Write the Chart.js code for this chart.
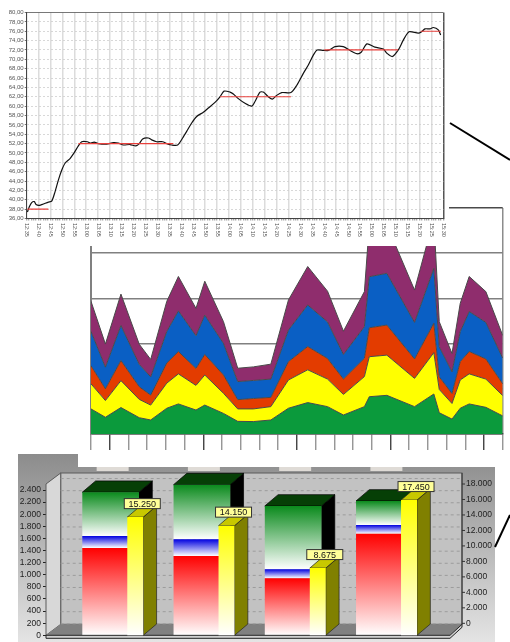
<!DOCTYPE html>
<html>
<head>
<meta charset="utf-8">
<title>Charts</title>
<script src="https://cdn.jsdelivr.net/npm/chart.js@4"></script>
<style>
  body { margin: 0; background: #fff; }
  #page { position: relative; width: 510px; height: 642px; overflow: hidden; }
  canvas, svg { position: absolute; display: block; }
  #panel { position: absolute; left: 18px; top: 454px; width: 477px; height: 188px; background: linear-gradient(#8c8c8c, #e4e4e4); }
  #barCanvas { left: 18px; top: 454px; z-index: 1; }
  #areaCanvas { left: 78px; top: 207px; z-index: 2; background: #fff; }
  #lineCanvas { left: 0; top: 0; z-index: 3; background: #fff; }
  #connectors { left: 0; top: 0; z-index: 4; }
</style>
</head>
<body>
<div id="page">
  <div id="panel"></div>
  <canvas id="barCanvas" width="477" height="188"></canvas>
  <canvas id="areaCanvas" width="432" height="260"></canvas>
  <canvas id="lineCanvas" width="449" height="246"></canvas>
  <svg id="connectors" width="510" height="642">
    <line x1="450" y1="123" x2="510" y2="160" stroke="#000" stroke-width="2"/>
    <line x1="495" y1="547" x2="510" y2="515" stroke="#000" stroke-width="2"/>
  </svg>
</div>
<script>
// --- line chart data (minutes after 12:35) ---
const priceMinutes = [0.3, 1.1, 2.1, 3.2, 3.9, 5.3, 7, 9.1, 10.5, 11.9, 13.3, 14.7, 16.1, 18.2, 19.9, 21.7, 23.1, 25.5, 26.9, 28.3,
  30.1, 33.6, 36.4, 38.5, 40.6, 43.4, 45.9, 47.3, 48.7, 51.1, 52.5, 54.6, 57.1, 58.8, 60.9, 63.4, 65.5, 67.2, 69.3, 71.4,
  74.2, 76.3, 79.1, 81.2, 82.9, 85.4, 86.8, 88.9, 91.7, 94.5, 95.9, 98, 99.4, 101.5, 103.2, 105, 107.1, 111, 113.4, 116.2,
  118.3, 120.4, 122, 124.6, 126.7, 129.5, 133, 135.8, 138.7, 140.5, 142.9, 146.3, 149.8, 151.3, 153.6, 156.1, 158.2, 160.6, 164.5, 165.9,
  167.3, 169.4, 170.8, 172.9, 173.9];
const priceValues = [37.4, 38.5, 39.4, 39.6, 39, 38.8, 39.1, 39.5, 39.7, 41.7, 44.2, 46.3, 47.8, 48.8, 50, 51.5, 52.4, 52.4, 52.1, 52.3,
  52, 51.9, 52.2, 52.1, 51.7, 51.8, 51.5, 52, 53, 53.2, 52.8, 52.4, 52.4, 52, 51.7, 51.7, 53.2, 54.6, 56.4, 57.8,
  58.7, 59.6, 60.8, 62, 63.2, 63, 62.6, 61.6, 60.6, 60, 61, 63, 63, 62, 61.5, 62.3, 62.9, 62.9, 64.4, 67,
  68.8, 70.9, 72, 71.9, 71.9, 72.7, 72.7, 71.9, 71.2, 71.5, 73.3, 72.6, 72.2, 71.3, 70.6, 72, 74.1, 75.9, 75.6, 75.9,
  76.5, 76.5, 76.8, 76.3, 75.2];
const levelStarts = [0.3, 21.7, 81.2, 125, 165.5];
const levelEnds = [9.1, 61.6, 111, 156, 174];
const levelValues = [38, 52, 62, 72, 76];

// --- stacked area data ---
const areaX = [0, 0.77, 1.6, 2.58, 3.19, 4.05, 4.67, 5.61, 6.08, 7.08, 7.84, 8.68, 9.61, 10.55,
  11.58, 12.64, 13.49, 14.61, 14.87, 15.81, 17.29, 18.32, 18.61, 19.29, 19.73, 20.21, 21.1, 22];
const areaGreen = [11.1, 7.4, 11.7, 7.2, 6.2, 11.4, 13.3, 10.6, 12.8, 9.1, 5.6, 5.5, 6.2, 11.4,
  13.9, 12.1, 8.4, 12.1, 16.5, 17.1, 12.1, 17.7, 9.4, 6.6, 11.4, 13.3, 11.8, 8];
const areaYellow = [11.1, 7.4, 11.9, 8.1, 6.6, 11.1, 13.3, 10.9, 13.3, 8.9, 5.5, 5.6, 5.9, 12.5,
  14.5, 12.2, 9.1, 13.3, 17.7, 17.8, 12.5, 18.3, 10.3, 6.9, 12.5, 13.3, 12.5, 9];
const areaRed = [8, 5.2, 8.9, 5.6, 4.4, 8.9, 9.9, 7.5, 9.1, 8.1, 4.1, 4.6, 4.1, 8.1,
  10.3, 9.1, 6.8, 8.1, 12.8, 13.3, 8.6, 13, 5.6, 4.4, 8.1, 9.9, 8.9, 5.2];
const areaBlue = [15.2, 9.6, 15.5, 9.9, 8.1, 14, 18, 14.5, 17.4, 14, 8, 8, 8.1, 14,
  18.4, 16.2, 10.9, 14, 22.6, 22.9, 16.2, 24.3, 13.3, 9.6, 13.3, 17.7, 16.2, 11.4];
const areaPurple = [13.3, 10.2, 13.9, 8.9, 7.7, 13.3, 15.2, 12.1, 15, 9.6, 5.9, 6, 6.6, 13.3,
  17, 13.6, 10.3, 15.5, 22.9, 21.4, 14.3, 22.1, 11.1, 8.1, 12.5, 15.5, 13.6, 10];

// --- 3D bar data ---
const barSlots = [1, 2, 3, 4];
const barRed = [1443, 1310, 942, 1679];
const barBlue = [198, 277, 149, 144];
const barGreen = [723, 902, 1046, 397];
const barYellow = [15250, 14150, 8675, 17450];
const yellowShift = 0.27;
const leftAxisTicks = [0, 200, 400, 600, 800, 1000, 1200, 1400, 1600, 1800, 2000, 2200, 2400];
const rightAxisTicks = [0, 2000, 4000, 6000, 8000, 10000, 12000, 14000, 16000, 18000];

Chart.defaults.font.family = '"Liberation Sans", Arial, sans-serif';
Chart.defaults.animation = false;
Chart.defaults.responsive = false;
Chart.defaults.plugins.legend.display = false;
Chart.defaults.plugins.tooltip.enabled = false;

function minuteLabel(m) {
  const total = 12 * 60 + 35 + m;
  return Math.floor(total / 60) + ':' + String(total % 60).padStart(2, '0');
}

function thousands(v) {
  return String(v).replace(/\B(?=(\d{3})+$)/g, '.');
}

// Chart.js only turns labels counter-clockwise here, these read downwards
const downwardLabels = {
  id: 'downwardLabels',
  afterDraw(chart) {
    const { ctx, scales: { x } } = chart;
    ctx.save();
    ctx.font = '5.5px "Liberation Sans", Arial, sans-serif';
    ctx.fillStyle = '#555';
    ctx.textAlign = 'left';
    ctx.textBaseline = 'middle';
    x.ticks.forEach((t, i) => {
      if (t.value % 5 !== 0) return;
      ctx.save();
      ctx.translate(x.getPixelForTick(i), x.top + 4.5);
      ctx.rotate(Math.PI / 2);
      ctx.fillText(minuteLabel(t.value), 0, 0);
      ctx.restore();
    });
    ctx.restore();
  }
};

// --- Line chart ---
const levelSets = levelValues.map((v, i) => ({
  data: [{ x: levelStarts[i], y: v }, { x: levelEnds[i], y: v }],
  borderColor: '#e8403c',
  borderWidth: 1.2,
  pointRadius: 0,
  order: 0
}));

new Chart(document.getElementById('lineCanvas'), {
  type: 'line',
  data: {
    datasets: [{
      data: priceMinutes.map((m, i) => ({ x: m, y: priceValues[i] })),
      borderColor: '#111',
      borderWidth: 1.2,
      pointRadius: 0,
      tension: 0.25,
      order: 1
    }, ...levelSets]
  },
  plugins: [downwardLabels],
  options: {
    layout: { padding: { top: 12.5, right: 5.7 } },
    scales: {
      x: {
        type: 'linear',
        min: 0,
        max: 175,
        afterFit: s => { s.height = 27.5; },
        border: { color: '#444', width: 1 },
        grid: {
          lineWidth: 1.5,
          tickLength: 2,
          tickWidth: 0.7,
          tickColor: '#555',
          color: c => c.tick.value === 175 ? '#555' : (c.tick.value % 5 === 0 ? '#dcdcdc' : 'rgba(0,0,0,0)')
        },
        ticks: { stepSize: 1, autoSkip: false, display: false }
      },
      y: {
        min: 36,
        max: 80,
        afterFit: s => { s.width = 26.7; },
        border: { color: '#444', width: 1, dash: c => (c.tick && c.tick.value === 80) ? [] : [2, 2] },
        grid: {
          tickLength: 2,
          tickColor: '#555',
          color: c => c.tick.value === 80 ? '#555' : '#cfcfcf',
          lineWidth: 0.8
        },
        ticks: {
          stepSize: 2,
          autoSkip: false,
          padding: 1,
          color: '#555',
          font: { size: 6 },
          callback: v => v.toFixed(2).replace('.', ',')
        }
      }
    }
  }
});

// --- Stacked area chart ---
function areaSet(values, color, fill) {
  return {
    data: values.map((v, i) => ({ x: areaX[i], y: v })),
    backgroundColor: color,
    borderColor: '#4a4a4a',
    borderWidth: 1,
    pointRadius: 0,
    tension: 0,
    fill: fill
  };
}

new Chart(document.getElementById('areaCanvas'), {
  type: 'line',
  data: {
    datasets: [
      areaSet(areaGreen, '#0b9a3c', 'origin'),
      areaSet(areaYellow, '#ffff00', '-1'),
      areaSet(areaRed, '#e33c00', '-1'),
      areaSet(areaBlue, '#0a5fc4', '-1'),
      areaSet(areaPurple, '#8f2d6d', '-1')
    ]
  },
  options: {
    layout: { padding: { top: 1, right: 7.3 } },
    scales: {
      x: {
        type: 'linear',
        min: 0,
        max: 22,
        afterFit: s => { s.height = 33; },
        border: { color: '#3a3a3a', width: 1.5 },
        grid: {
          tickLength: 16,
          lineWidth: 1.5,
          tickWidth: 1.3,
          tickColor: c => (c.tick.value - 1) % 5 === 0 ? '#333' : '#8c8c8c',
          color: c => c.tick.value === 22 ? '#8c8c8c' : 'rgba(0,0,0,0)'
        },
        ticks: { stepSize: 1, display: false, autoSkip: false }
      },
      y: {
        stacked: true,
        min: 0,
        max: 100,
        afterFit: s => { s.width = 13; },
        border: { color: '#808080', width: 2 },
        grid: {
          drawTicks: false,
          lineWidth: 1.5,
          color: c => c.tick.value === 100 ? '#4a4a4a' : '#808080'
        },
        ticks: { stepSize: 20, display: false }
      }
    }
  }
});

// --- 3D bar chart ---
const RED = 0, BLUE = 1, GREEN = 2, YELLOW = 3;

function barGradient(c, topValue, bottomValue, scaleId, color) {
  const scale = c.chart.scales[scaleId];
  const y0 = scale.getPixelForValue(topValue), y1 = scale.getPixelForValue(bottomValue);
  // the legend asks for a style before the scales have been laid out
  if (!Number.isFinite(y0) || !Number.isFinite(y1)) return color;
  const g = c.chart.ctx.createLinearGradient(0, y0, 0, y1);
  g.addColorStop(0, color);
  g.addColorStop(1, '#ffffff');
  return g;
}

function box3d(ctx, left, right, top, bottom, dx, dy, topColor, sideColor) {
  ctx.fillStyle = sideColor;
  ctx.beginPath();
  ctx.moveTo(right, top);
  ctx.lineTo(right + dx, top - dy);
  ctx.lineTo(right + dx, bottom - dy);
  ctx.lineTo(right, bottom);
  ctx.closePath();
  ctx.fill();
  ctx.stroke();
  ctx.fillStyle = topColor;
  ctx.beginPath();
  ctx.moveTo(left, top);
  ctx.lineTo(left + dx, top - dy);
  ctx.lineTo(right + dx, top - dy);
  ctx.lineTo(right, top);
  ctx.closePath();
  ctx.fill();
  ctx.stroke();
}

const roomPlugin = {
  id: 'room',
  beforeDatasetsDraw(chart) {
    const { ctx, chartArea: a, scales } = chart;
    const wallL = a.left + 14.7, wallR = a.right + 12, wallT = a.top - 11, wallB = a.bottom - 11;
    ctx.save();
    // light tabs poking out above the wall
    ctx.fillStyle = '#dfdbd6';
    chart.getDatasetMeta(RED).data.forEach(el => ctx.fillRect(el.x - 14, 13, 32, 4));
    // back wall
    ctx.fillStyle = '#c2c2c2';
    ctx.fillRect(wallL, wallT, wallR - wallL, wallB - wallT);
    ctx.strokeStyle = '#5a5a5a';
    ctx.lineWidth = 1;
    ctx.strokeRect(wallL, wallT, wallR - wallL, wallB - wallT);
    // left wall
    ctx.fillStyle = '#d8d8d8';
    ctx.beginPath();
    ctx.moveTo(a.left, a.top);
    ctx.lineTo(wallL, wallT);
    ctx.lineTo(wallL, wallB);
    ctx.lineTo(a.left, a.bottom);
    ctx.closePath();
    ctx.fill();
    ctx.stroke();
    // floor
    ctx.fillStyle = '#808080';
    ctx.beginPath();
    ctx.moveTo(a.left, a.bottom);
    ctx.lineTo(wallL, wallB);
    ctx.lineTo(wallR, wallB);
    ctx.lineTo(a.right, a.bottom);
    ctx.closePath();
    ctx.fill();
    // dashed wall lines
    ctx.strokeStyle = '#9c9c9c';
    ctx.setLineDash([3, 3]);
    scales.y.ticks.forEach(t => {
      const y = scales.y.getPixelForValue(t.value) - 11.5;
      ctx.beginPath();
      ctx.moveTo(wallL, y);
      ctx.lineTo(wallR, y);
      ctx.stroke();
    });
    ctx.setLineDash([]);
    // right axis tick marks
    ctx.strokeStyle = '#333';
    ctx.beginPath();
    ctx.moveTo(wallR, wallT);
    ctx.lineTo(wallR, wallB);
    scales.yBack.ticks.forEach(t => {
      const y = scales.yBack.getPixelForValue(t.value);
      ctx.moveTo(wallR, y);
      ctx.lineTo(wallR + 3, y);
    });
    ctx.stroke();
    // slab under the bars
    ctx.fillStyle = '#d0d0d0';
    ctx.beginPath();
    ctx.moveTo(a.left, a.bottom);
    ctx.lineTo(a.right, a.bottom);
    ctx.lineTo(wallR, wallB);
    ctx.lineTo(wallR, wallB + 3);
    ctx.lineTo(a.right, a.bottom + 3);
    ctx.lineTo(a.left, a.bottom + 3);
    ctx.closePath();
    ctx.fill();
    ctx.strokeStyle = '#222';
    ctx.stroke();
    ctx.restore();
  },
  beforeDatasetDraw(chart, args) {
    const { ctx } = chart;
    ctx.save();
    ctx.lineWidth = 0.7;
    if (args.index === GREEN) {
      ctx.strokeStyle = '#000';
      const reds = chart.getDatasetMeta(RED).data;
      args.meta.data.forEach((el, i) => {
        box3d(ctx, el.x - el.width / 2, el.x + el.width / 2, el.y, reds[i].base, 13.3, 11.3, '#063f06', '#000');
      });
    }
    if (args.index === YELLOW) {
      ctx.strokeStyle = '#222';
      args.meta.data.forEach(el => {
        box3d(ctx, el.x - el.width / 2, el.x + el.width / 2, el.y, el.base, 13.3, 11.3, '#c8c800', '#808000');
      });
    }
    ctx.restore();
  },
  afterDatasetsDraw(chart) {
    const { ctx } = chart;
    ctx.save();
    ctx.font = '9px "Liberation Sans", Arial, sans-serif';
    ctx.textAlign = 'center';
    ctx.textBaseline = 'middle';
    chart.getDatasetMeta(YELLOW).data.forEach((el, i) => {
      const cx = el.x + 7, top = el.y - 18.5;
      ctx.fillStyle = '#ffff99';
      ctx.fillRect(cx - 18, top, 36, 10);
      ctx.strokeStyle = '#333';
      ctx.lineWidth = 1;
      ctx.strokeRect(cx - 18, top, 36, 10);
      ctx.fillStyle = '#111';
      ctx.fillText(thousands(barYellow[i]), cx, top + 5.5);
    });
    ctx.restore();
  }
};

const stackCommon = {
  stack: 'main',
  yAxisID: 'y',
  grouped: false,
  clip: false,
  barPercentage: 4,
  categoryPercentage: 1,
  maxBarThickness: 56.7,
  borderWidth: 0
};

new Chart(document.getElementById('barCanvas'), {
  type: 'bar',
  data: {
    datasets: [
      {
        ...stackCommon,
        order: 1,
        data: barRed.map((v, i) => ({ x: barSlots[i], y: v })),
        backgroundColor: c => barGradient(c, barRed[c.dataIndex], 0, 'y', '#ff0000')
      },
      {
        ...stackCommon,
        order: 2,
        data: barBlue.map((v, i) => ({ x: barSlots[i], y: v })),
        backgroundColor: c => {
          const base = barRed[c.dataIndex];
          return barGradient(c, base + barBlue[c.dataIndex], base, 'y', '#0000e0');
        }
      },
      {
        ...stackCommon,
        order: 3,
        data: barGreen.map((v, i) => ({ x: barSlots[i], y: v })),
        backgroundColor: c => {
          const base = barRed[c.dataIndex] + barBlue[c.dataIndex];
          return barGradient(c, base + barGreen[c.dataIndex], base, 'y', '#0a8a1c');
        }
      },
      {
        order: 0,
        yAxisID: 'yYellow',
        grouped: false,
        clip: false,
        barPercentage: 4,
        categoryPercentage: 1,
        maxBarThickness: 16,
        borderWidth: 0,
        data: barYellow.map((v, i) => ({ x: barSlots[i] + yellowShift, y: v })),
        backgroundColor: c => barGradient(c, barYellow[c.dataIndex], 0, 'yYellow', '#ffff00')
      }
    ]
  },
  plugins: [roomPlugin],
  options: {
    layout: { padding: { top: 30, bottom: 6.7 } },
    scales: {
      x: { type: 'linear', offset: false, min: 0.2915, max: 4.719, display: false, ticks: { stepSize: 1 } },
      y: {
        stacked: true,
        min: 0,
        max: 2500,
        afterFit: s => { s.width = 28; s.paddingTop = 0; s.paddingBottom = 0; },
        afterBuildTicks: s => { s.ticks = leftAxisTicks.map(value => ({ value })); },
        border: { color: '#222', width: 1 },
        grid: { drawOnChartArea: false, tickLength: 3, tickColor: '#222' },
        ticks: { autoSkip: false, padding: 2, color: '#222', font: { size: 8.5 }, callback: thousands }
      },
      yYellow: { position: 'right', display: false, min: 0, max: 19523 },
      yBack: {
        position: 'right',
        min: -1548,
        max: 18000,
        afterFit: s => { s.width = 45; s.paddingTop = 0; s.paddingBottom = 0; },
        afterBuildTicks: s => { s.ticks = rightAxisTicks.map(value => ({ value })); },
        border: { display: false },
        grid: { drawOnChartArea: false, drawTicks: false },
        ticks: { autoSkip: false, padding: 16, color: '#222', font: { size: 8.5 }, callback: thousands }
      }
    }
  }
});
</script>
</body>
</html>
